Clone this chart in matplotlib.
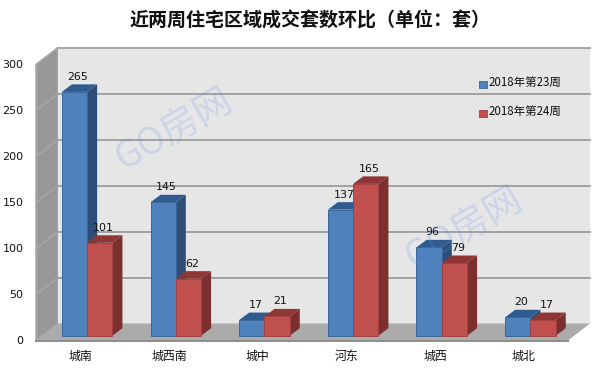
import matplotlib
matplotlib.use("Agg")
import matplotlib.pyplot as plt
from matplotlib.patches import Polygon
from matplotlib.transforms import offset_copy

plt.rcParams['font.family'] = ['Noto Sans CJK SC', 'DejaVu Sans']

categories = ['城南', '城西南', '城中', '河东', '城西', '城北']
week23 = [265, 145, 17, 137, 96, 20]
week24 = [101, 62, 21, 165, 79, 17]
series_names = ['2018年第23周', '2018年第24周']
yticks = [0, 50, 100, 150, 200, 250, 300]
title = '近两周住宅区域成交套数环比（单位：套）'
watermark = 'GO房网'

W, H = 594, 369
fig = plt.figure(figsize=(W / 100, H / 100), dpi=100, facecolor='white')
L, R, T, B = 36, 568, 64.5, 340.5
ax = fig.add_axes([L / W, 1 - B / H, (R - L) / W, (B - T) / H])
ax.set_xlim(-0.5, 5.5)
ax.set_ylim(0, 300)
ax.patch.set_visible(False)
for s in ax.spines.values():
    s.set_visible(False)

px_x = 6 / (R - L)          # data units per pixel
px_y = 300 / (B - T)
DX, DY = 22 * px_x, 17 * px_y   # wall depth
dx, dy = 10 * px_x, 7.5 * px_y    # bar depth
bw = 25.3 * px_x
shift = 6.8 * px_x

# walls and floor
x0, x1 = -0.5, 5.5
ax.add_patch(Polygon([(x0, 0), (x0 + DX, DY), (x0 + DX, 300 + DY), (x0, 300)],
                     fc='#989898', ec='#a8a8a8', lw=1, clip_on=False, zorder=1))
ax.add_patch(Polygon([(x0 + DX, DY), (x1 + DX, DY), (x1 + DX, 300 + DY), (x0 + DX, 300 + DY)],
                     fc='#e6e6e6', ec='none', clip_on=False, zorder=1))
ax.add_patch(Polygon([(x0, 0), (x1, 0), (x1 + DX, DY), (x0 + DX, DY)],
                     fc='#ababab', ec='none', clip_on=False, zorder=2))
for v in yticks[1:]:
    ax.plot([x0, x0 + DX], [v, v + DY], color='#ababab', lw=0.9, clip_on=False, zorder=2)
    ax.plot([x0 + DX, x1 + DX], [v + DY, v + DY],
            color='#a6a6a6' if v == 300 else '#8f8f8f', lw=1.4 if v == 300 else 1.1,
            clip_on=False, zorder=2)
ax.plot([x0, x1], [0, 0], color='#8c8c8c', lw=1.4, clip_on=False, zorder=3)
ax.plot([x0, x0], [0, 300], color='#a8a8a8', lw=1, clip_on=False, zorder=2)

# bars
tr = offset_copy(ax.transData, fig, x=0, y=4.8, units='dots')
lab_tr = offset_copy(ax.transData, fig, x=3.5, y=4.8 + 15, units='dots')
styles = [('#4f81bd', '#2f5b8e', '#2d4e78', '#3a6699'),
          ('#c0504d', '#8f3533', '#7b2f2e', '#a04240')]
for k, (vals, (front, top, side, edge)) in enumerate(zip([week23, week24], styles)):
    for i, v in enumerate(vals):
        xl = i - bw + shift + k * bw
        xr = xl + bw
        z = 5 + i * 2 + k * 0.1
        ax.add_patch(Polygon([(xr, 0), (xr + dx, dy), (xr + dx, v + dy), (xr, v)],
                             fc=side, ec='none', transform=tr, clip_on=False, zorder=z))
        ax.add_patch(Polygon([(xl, v), (xr, v), (xr + dx, v + dy), (xl + dx, v + dy)],
                             fc=top, ec='none', transform=tr, clip_on=False, zorder=z))
        ax.bar(xl, v, bw, align='edge', color=front, edgecolor=edge, lw=0.7,
               transform=tr, clip_on=False, zorder=z + 0.01)
        ax.text((xl + xr) / 2, v, str(v), transform=lab_tr, ha='center', va='center',
                fontsize=7.9, color='#111111', family='DejaVu Sans', zorder=40)

ax.set_xticks(range(len(categories)), categories, fontsize=8.6, color='#111111')
ax.set_yticks(yticks, [str(v) for v in yticks], fontsize=8, color='#111111', family='DejaVu Sans')
ax.tick_params(length=0)
ax.tick_params(axis='x', pad=6.5)
ax.tick_params(axis='y', pad=9)

# legend
for name, c, e, y in zip(series_names, ['#4f81bd', '#c0504d'], ['#3a6699', '#a04240'], [84, 113]):
    fig.patches.append(plt.Rectangle((479 / W, 1 - (y + 4) / H), 7.5 / W, 7.5 / H, fc=c, ec=e, lw=0.6,
                                     transform=fig.transFigure, zorder=50))
    fig.text(488.5 / W, 1 - (y - 2) / H, name, fontsize=8.3, color='#111111', va='center', ha='left', zorder=50)

# title
fig.text(310 / W, 1 - 21 / H, title, fontsize=13.7, fontweight='bold', color='#111111',
         ha='center', va='center')

# watermarks
for x, y in [(175, 130), (465, 229)]:
    fig.text(x / W, 1 - y / H, watermark, fontsize=27, rotation=30, color='#5b8ee6', alpha=0.2,
             ha='center', va='center', rotation_mode='anchor', zorder=60)

fig.savefig('out.png', dpi=100, facecolor='white')
